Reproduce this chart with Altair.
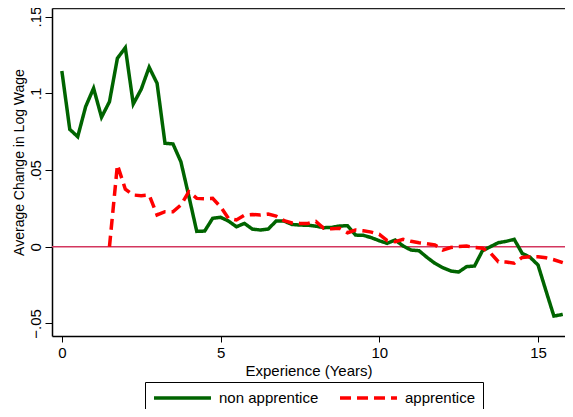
import altair as alt
import pandas as pd

# ---- data ----
non_x = [0.00, 0.25, 0.50, 0.75, 1.00, 1.25, 1.50, 1.75, 2.00, 2.25, 2.50, 2.75,
         3.00, 3.25, 3.50, 3.75, 4.00, 4.25, 4.50, 4.75, 5.00, 5.25, 5.50, 5.75,
         6.00, 6.25, 6.50, 6.75, 7.00, 7.25, 7.50, 7.75, 8.00, 8.25, 8.50, 8.75,
         9.00, 9.25, 9.50, 9.75, 10.00, 10.25, 10.50, 10.75, 11.00, 11.25, 11.50, 11.75,
         12.00, 12.25, 12.50, 12.75, 13.00, 13.25, 13.50, 13.75, 14.00, 14.25, 14.50, 14.75,
         15.00, 15.25, 15.50, 15.78]
non_y = [0.1146, 0.0765, 0.0717, 0.0913, 0.1033, 0.0844, 0.0945, 0.1228, 0.1297, 0.0930, 0.1026, 0.1170,
         0.1065, 0.0674, 0.0670, 0.0554, 0.0330, 0.0100, 0.0102, 0.0185, 0.0192, 0.0167, 0.0130, 0.0152,
         0.0115, 0.0109, 0.0115, 0.0167, 0.0167, 0.0145, 0.0141, 0.0140, 0.0134, 0.0124, 0.0126, 0.0135,
         0.0137, 0.0076, 0.0074, 0.0059, 0.0039, 0.0022, 0.0044, 0.0005, -0.0022, -0.0026, -0.0069, -0.0108,
         -0.0137, -0.0158, -0.0165, -0.0130, -0.0126, -0.0026, 0.0000, 0.0026, 0.0035, 0.0048, -0.0043, -0.0069,
         -0.0119, -0.0287, -0.0452, -0.0441]

app_x = [1.50, 1.75, 2.00, 2.25, 2.50, 2.75, 3.00, 3.25, 3.50, 3.75, 4.00, 4.25,
         4.50, 4.75, 5.00, 5.25, 5.50, 5.75, 6.00, 6.25, 6.50, 6.75, 7.00, 7.25,
         7.50, 7.75, 8.00, 8.25, 8.50, 8.75, 9.00, 9.25, 9.50, 9.75, 10.00, 10.25,
         10.50, 10.75, 11.00, 11.25, 11.50, 11.75, 12.00, 12.25, 12.50, 12.75, 13.00, 13.25,
         13.50, 13.75, 14.00, 14.25, 14.50, 14.75, 15.00, 15.25, 15.50, 15.78]
app_y = [0.0000, 0.0533, 0.0375, 0.0337, 0.0333, 0.0337, 0.0207, 0.0228, 0.0228, 0.0272, 0.0359, 0.0315,
         0.0313, 0.0315, 0.0260, 0.0185, 0.0174, 0.0205, 0.0210, 0.0207, 0.0213, 0.0200, 0.0170, 0.0155,
         0.0152, 0.0152, 0.0165, 0.0120, 0.0117, 0.0120, 0.0091, 0.0109, 0.0104, 0.0095, 0.0081, 0.0040,
         0.0033, 0.0048, 0.0035, 0.0026, 0.0020, 0.0012, -0.0022, -0.0005, 0.0002, 0.0004, -0.0005, -0.0010,
         -0.0040, -0.0098, -0.0100, -0.0108, -0.0070, -0.0065, -0.0065, -0.0072, -0.0085, -0.0104]

series = ["non apprentice", "apprentice"]
colors = ["#006400", "#ff0000"]
dashes = [[1, 0], [11, 6]]
x_ticks = [0, 5, 10, 15]
y_ticks = [-0.05, 0, 0.05, 0.1, 0.15]
zero_line = [0]

df_non = pd.DataFrame({"x": non_x, "y": non_y, "group": series[0]})
df_app = pd.DataFrame({"x": app_x, "y": app_y, "group": series[1]})
df_zero = pd.DataFrame({"y": zero_line})

FONT = "Liberation Sans"

x_scale = alt.Scale(domain=[-0.31, 15.85], nice=False, zero=False)
y_scale = alt.Scale(domain=[-0.0582, 0.1556], nice=False, zero=False)

legend = alt.Legend(
    title=None, orient="none", legendX=93, legendY=374, direction="horizontal",
    symbolType="M-1,0H7.14", symbolSize=196, symbolStrokeWidth=3.5,
    labelFont=FONT, labelFontSize=15, labelColor="black", labelOffset=49,
    columnPadding=14, padding=7, strokeColor="black", fillColor="white",
)

color_enc = alt.Color("group:N", scale=alt.Scale(domain=series, range=colors), legend=legend)
dash_enc = alt.StrokeDash("group:N", scale=alt.Scale(domain=series, range=dashes), legend=legend)

y_axis = alt.Axis(
    values=y_ticks, title="Average Change in Log Wage",
    labelExpr="datum.value == 0 ? '0' : replace(format(datum.value, '.2~f'), '0.', '.')",
    labelAngle=270, labelAlign="center", labelBaseline="bottom", labelPadding=2,
    labelFont=FONT, labelFontSize=15, labelColor="black",
    tickSize=7, tickColor="black", tickWidth=1,
    domainColor="black", domainWidth=1.5, grid=False,
    titleFont=FONT, titleFontSize=14, titleFontWeight="normal", titleColor="black",
    titleX=-33, titleY=154, titleAlign="center", titleBaseline="middle", titleAngle=270,
)
y_enc = alt.Y("y:Q", scale=y_scale, axis=y_axis)

x_axis_bottom = alt.Axis(
    values=x_ticks, format="d", title="Experience (Years)", orient="bottom",
    labelFont=FONT, labelFontSize=15, labelColor="black", labelPadding=3, labelAngle=0,
    tickSize=6, tickColor="black", tickWidth=1,
    domainColor="black", domainWidth=1.5, grid=False,
    titleFont=FONT, titleFontSize=15, titleFontWeight="normal", titleColor="black", titlePadding=3,
)
x_axis_top = alt.Axis(
    orient="top", labels=False, ticks=False, title=None, grid=False,
    domainColor="#222222", domainWidth=1.5,
)

zero = alt.Chart(df_zero).mark_rule(color="#d3365f", strokeWidth=1.5).encode(
    y=alt.Y("y:Q", scale=y_scale, axis=y_axis)
)

green = alt.Chart(df_non).mark_line(strokeWidth=3.5, clip=True).encode(
    x=alt.X("x:Q", scale=x_scale, axis=x_axis_top),
    y=y_enc, color=color_enc, strokeDash=dash_enc,
)

red = alt.Chart(df_app).mark_line(strokeWidth=3.5, clip=True).encode(
    x=alt.X("x:Q", scale=x_scale, axis=x_axis_bottom),
    y=y_enc, color=color_enc, strokeDash=dash_enc,
)

chart = alt.layer(zero, green, red).resolve_axis(x="independent").properties(
    width=513, height=328, autosize="none",
    padding={"left": 44, "top": 0, "right": 0, "bottom": 73},
    background="white",
).configure_view(stroke=None)

chart.save("out.html", embed_options={"renderer": "svg", "actions": False})
